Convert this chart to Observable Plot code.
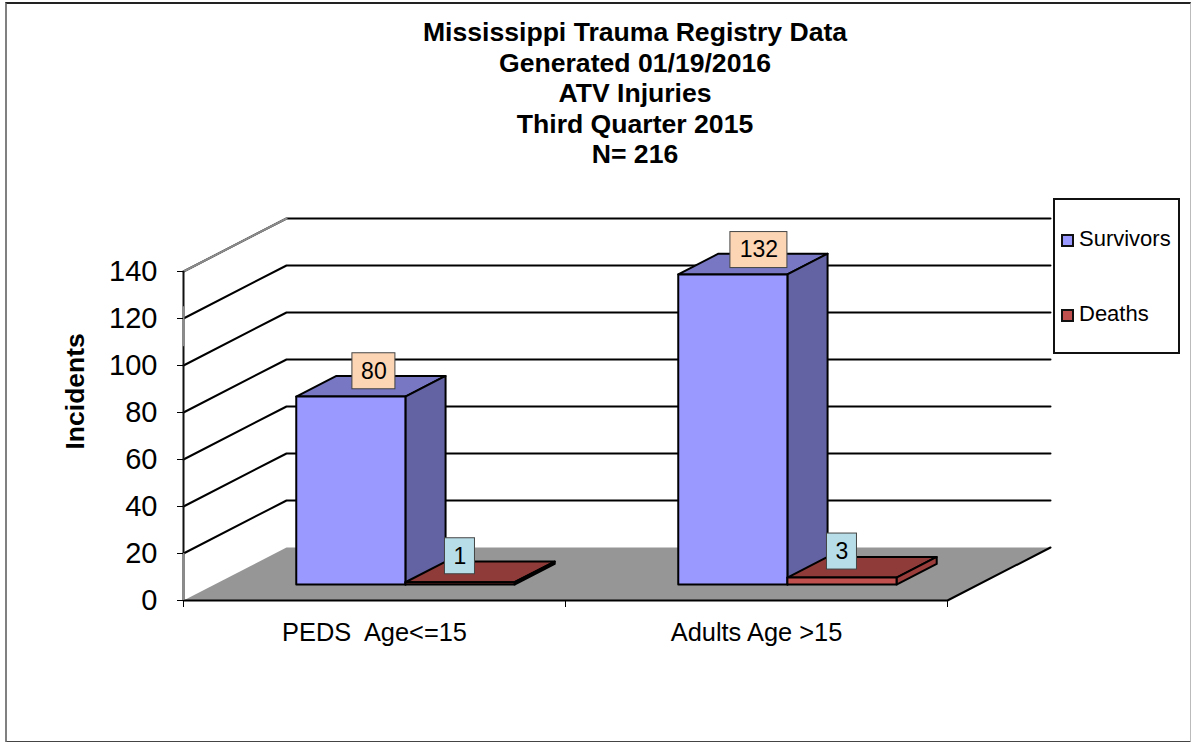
<!DOCTYPE html>
<html>
<head>
<meta charset="utf-8">
<script src="https://cdn.jsdelivr.net/npm/d3@7"></script>
<script src="https://cdn.jsdelivr.net/npm/@observablehq/plot@0.6"></script>
<style>
html,body{margin:0;padding:0;background:#fff;}
body{width:1191px;height:742px;position:relative;overflow:hidden;font-family:"Liberation Sans",Arial,sans-serif;color:#000;}
#frame{position:absolute;left:5px;top:2px;width:1183px;height:737px;border-top:2px solid #222;border-left:2px solid #808080;border-right:1px solid #bbb;border-bottom:2px solid #444;box-sizing:content-box;}
#chart{position:absolute;left:0;top:0;}
#title{position:absolute;left:335px;width:600px;top:17px;text-align:center;font-weight:bold;font-size:26.6px;line-height:30.6px;}
#legend{position:absolute;left:1053px;top:198px;width:123px;height:152px;border:2px solid #111;background:#fff;font-size:22px;}
.item{position:absolute;left:24px;line-height:24px;white-space:nowrap;}
.sw{position:absolute;left:6px;width:9px;height:9px;border:2px solid #111;}
</style>
</head>
<body>
<div id="chart"></div>
<div id="frame"></div>
<div id="title"></div>
<div id="legend"></div>
<script>
// Data
const titleLines = ["Mississippi Trauma Registry Data", "Generated 01/19/2016", "ATV Injuries", "Third Quarter 2015", "N= 216"];
const categories = ["PEDS  Age<=15", "Adults Age >15"];
const survivors = [80, 132];
const deaths = [1, 3];
const seriesNames = ["Survivors", "Deaths"];
const yTicks = [0, 20, 40, 60, 80, 100, 120, 140];
const yTitle = "Incidents";

// Oblique projection, expressed in data units
const pxX = 1 / 382, pxY = 140 / 329;
const depthX = 103 * pxX, depthY = 53 * pxY;
const barW = 1 / 3.5, barGap = 0.75 * barW;
const zFront = 0.3, zBack = 0.69;
const P = (u, z, v) => ({x: u + z * depthX, y: v + z * depthY});

const palette = {
  Survivors: {front: "#9999ff", top: "#7777c3", side: "#6363a3", label: "#fcd5b4"},
  Deaths: {front: "#c0504d", top: "#8f3b39", side: "#9a3d3b", label: "#b7dee8"}
};

const face = (pts, fill, strokeWidth = 2) =>
  Plot.line(pts, {x: "x", y: "y", fill, stroke: "#000", strokeWidth, curve: "linear-closed", strokeLinejoin: "round"});

function bar(u0, value, c) {
  const u1 = u0 + barW;
  return [
    face([P(u0, zFront, value), P(u1, zFront, value), P(u1, zBack, value), P(u0, zBack, value)], c.top),
    face([P(u1, zFront, 0), P(u1, zBack, 0), P(u1, zBack, value), P(u1, zFront, value)], c.side),
    face([P(u0, zFront, 0), P(u1, zFront, 0), P(u1, zFront, value), P(u0, zFront, value)], c.front)
  ];
}

function valueLabel(cx, cy, text, fill, wpx) {
  const hw = wpx / 2 * pxX, hh = 18 * pxY;
  return [
    Plot.rect([{x1: cx - hw, x2: cx + hw, y1: cy - hh, y2: cy + hh}],
      {x1: "x1", x2: "x2", y1: "y1", y2: "y2", fill, stroke: "#444", strokeWidth: 1}),
    Plot.text([{x: cx, y: cy, t: text}], {x: "x", y: "y", text: "t", fontSize: 23, fill: "#000"})
  ];
}

const floor = [P(0, 0, 0), P(2, 0, 0), P(2, 1, 0), P(0, 1, 0)];
const gridValues = yTicks.filter(v => v > 0);
const gridMarks = gridValues.map(v =>
  Plot.line([P(0, 0, v), P(0, 1, v), P(2, 1, v)], {x: "x", y: "y", stroke: "#000", strokeWidth: 2})
);
const topSlant = Plot.line([P(0, 0, 140), P(0, 1, 140)], {x: "x", y: "y", stroke: "#8c8c8c", strokeWidth: 2});

const barMarks = [];
const labelMarks = [];
categories.forEach((cat, i) => {
  const u0 = i + barGap, u1 = u0 + barW;
  barMarks.push(...bar(u0, survivors[i], palette.Survivors));
  barMarks.push(...bar(u1, deaths[i], palette.Deaths));
  const zMid = (zFront + zBack) / 2;
  const a = P(u0 + barW / 2, zMid, survivors[i]);
  const wide = String(survivors[i]).length > 2;
  labelMarks.push(...valueLabel(a.x + (wide ? 6 : 3) * pxX, a.y + (wide ? 14 : 15) * pxY, String(survivors[i]), palette.Survivors.label, wide ? 57 : 43));
  const b = P(u1 + barW / 2, zFront, deaths[i]);
  labelMarks.push(...valueLabel(b.x, b.y + 26 * pxY, String(deaths[i]), palette.Deaths.label, 30));
});

const plot = Plot.plot({
  width: 1191,
  height: 742,
  marginLeft: 183,
  marginRight: 244,
  marginTop: 271,
  marginBottom: 142,
  style: {fontFamily: "'Liberation Sans', Arial, sans-serif", background: "transparent", color: "#000"},
  x: {domain: [0, 2]},
  y: {domain: [0, 140]},
  marks: [
    Plot.line(floor, {x: "x", y: "y", fill: "#969696", stroke: "none", curve: "linear-closed"}),
    ...gridMarks,
    topSlant,
    Plot.line([P(0, 0, 0), P(2, 0, 0), P(2, 1, 0)], {x: "x", y: "y", stroke: "#000", strokeWidth: 2}),
    Plot.ruleX([0], {y1: 0, y2: 140, stroke: "#111", strokeWidth: 2}),
    Plot.ruleX([0], {y1: 108, y2: 125, stroke: "#8c8c8c", strokeWidth: 2}),
    Plot.ruleX([0], {y1: 0, y2: 20, stroke: "#8c8c8c", strokeWidth: 2}),
    Plot.axisY({ticks: yTicks, tickSize: 6, tickPadding: 20, fontSize: 29, label: null, tickFormat: d => String(d)}),
    Plot.axisX({ticks: [0, 1, 2], tickSize: 7, tickFormat: () => "", label: null}),
    ...barMarks,
    ...labelMarks,
    Plot.text(categories, {x: (d, i) => i + 0.5, y: () => 0, dy: 32, fontSize: 25.4}),
    Plot.text([yTitle], {x: () => 0, y: () => 89, dx: -108, rotate: -90, fontSize: 26.5, fontWeight: "bold"})
  ]
});
document.getElementById("chart").appendChild(plot);

document.getElementById("title").innerHTML = titleLines.map(t => `<div>${t}</div>`).join("");
const legend = document.getElementById("legend");
seriesNames.forEach((name, i) => {
  const top = i === 0 ? 39 : 114;
  const sw = document.createElement("div");
  sw.className = "sw";
  sw.style.top = (top - 5) + "px";
  sw.style.background = palette[name].front;
  legend.appendChild(sw);
  const t = document.createElement("div");
  t.className = "item";
  t.style.top = (top - 12) + "px";
  t.textContent = name;
  legend.appendChild(t);
});
</script>
</body>
</html>
